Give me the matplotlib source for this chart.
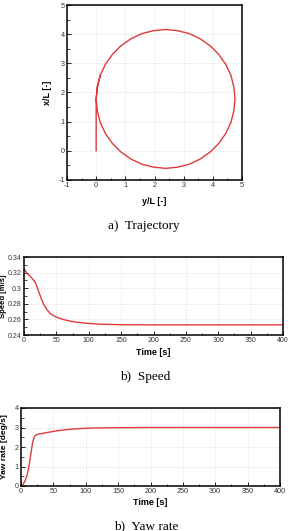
import matplotlib
matplotlib.use("Agg")
import matplotlib.pyplot as plt
from matplotlib.ticker import MultipleLocator, FormatStrFormatter

# --- datos ---
# trayectoria: y/L (horizontal) y x/L (vertical)
traj_y = [0.00, 0.00, 0.00, 0.00,
          0.04, 0.14, 0.32, 0.56, 0.85, 1.19, 1.57, 1.97, 2.38,
          2.79, 3.19, 3.57, 3.91, 4.20, 4.44, 4.62, 4.72, 4.76,
          4.72, 4.62, 4.44, 4.20, 3.91, 3.57, 3.19, 2.79, 2.38,
          1.97, 1.57, 1.19, 0.85, 0.56, 0.32, 0.14, 0.04, 0.00,
          0.04, 0.14]
traj_x = [0.00, 0.60, 1.20, 1.78,
          2.19, 2.59, 2.97, 3.31, 3.60, 3.84, 4.02, 4.12, 4.16,
          4.12, 4.02, 3.84, 3.60, 3.31, 2.97, 2.59, 2.19, 1.78,
          1.37, 0.97, 0.59, 0.25, -0.04, -0.28, -0.46, -0.56, -0.60,
          -0.56, -0.46, -0.28, -0.04, 0.25, 0.59, 0.97, 1.37, 1.78,
          2.19, 2.59]

# velocidad
t_speed = [0, 3, 6, 10, 14, 17, 20, 23, 26, 30, 35, 40, 45, 50, 60, 70, 80,
           100, 120, 150, 200, 250, 300, 350, 400]
speed = [0.325, 0.321, 0.318, 0.315, 0.311, 0.308, 0.302, 0.295, 0.288, 0.280,
         0.273, 0.268, 0.265, 0.263, 0.260, 0.258, 0.2565, 0.2548, 0.2538,
         0.2532, 0.253, 0.253, 0.253, 0.253, 0.253]

# velocidad de guinada
t_yaw = [0, 3, 6, 9, 12, 15, 18, 21, 24, 27, 30, 40, 50, 60, 70, 80, 100,
         120, 150, 200, 250, 300, 350, 400]
yaw = [0.0, 0.08, 0.25, 0.5, 0.95, 1.6, 2.25, 2.55, 2.63, 2.66, 2.68, 2.74,
       2.80, 2.85, 2.89, 2.92, 2.96, 2.98, 2.99, 3.0, 3.0, 3.0, 3.0, 3.0]

RED = "#e03a3a"
W, H = 293, 531

plt.rcParams['font.family'] = ['Liberation Sans', 'DejaVu Sans']
plt.rcParams['axes.unicode_minus'] = False

fig = plt.figure(figsize=(W / 100, H / 100), dpi=100)


def estilo(ax, xmaj, xmin, ymaj, ymin, lsize=5.2):
    ax.xaxis.set_major_locator(MultipleLocator(xmaj))
    ax.xaxis.set_minor_locator(MultipleLocator(xmin))
    ax.yaxis.set_major_locator(MultipleLocator(ymaj))
    ax.yaxis.set_minor_locator(MultipleLocator(ymin))
    ax.tick_params(which='both', direction='in', top=False, right=False,
                   labelsize=lsize, pad=1.5, labelcolor='#333333')
    ax.tick_params(which='major', length=3, width=0.6)
    ax.tick_params(which='minor', length=1.8, width=0.5)
    ax.grid(True, which='major', color='#dcdcdc', linestyle=(0, (2, 2)), linewidth=0.5)
    for s in ax.spines.values():
        s.set_linewidth(1.1)


def px_axes(x0, y0, x1, y1):
    return fig.add_axes([x0 / W, 1 - y1 / H, (x1 - x0) / W, (y1 - y0) / H])


lab = dict(fontsize=6.5, fontweight='bold')

# Grafico a: trayectoria
ax1 = px_axes(67, 5, 242, 180)
ax1.plot(traj_y, traj_x, color=RED, linewidth=1.0)
ax1.set_xlim(-1, 5)
ax1.set_ylim(-1, 5)
estilo(ax1, 1, 0.5, 1, 0.5)
ax1.set_xlabel('y/L [-]', **lab)
ax1.set_ylabel('x/L [-]', **lab)
ax1.xaxis.set_label_coords(0.5, -0.097)
ax1.yaxis.set_label_coords(-0.086, 0.5)

# Grafico b: velocidad
ax2 = px_axes(24, 257, 283, 335)
ax2.plot(t_speed, speed, color=RED, linewidth=1.0)
ax2.set_xlim(0, 400)
ax2.set_ylim(0.24, 0.34)
estilo(ax2, 50, 25, 0.02, 0.01, lsize=5.0)
ax2.yaxis.set_major_formatter(FormatStrFormatter('%g'))
ax2.set_xlabel('Time [s]', **lab)
ax2.set_ylabel('Speed [m/s]', fontsize=5.6, fontweight='bold')
ax2.xaxis.set_label_coords(0.5, -0.163)
ax2.yaxis.set_label_coords(-0.066, 0.5)

# Grafico c: yaw rate
ax3 = px_axes(21, 408, 280, 486)
ax3.plot(t_yaw, yaw, color=RED, linewidth=1.0)
ax3.set_xlim(0, 400)
ax3.set_ylim(0, 4)
estilo(ax3, 50, 25, 1, 0.5)
ax3.set_xlabel('Time [s]', **lab)
ax3.set_ylabel('Yaw rate [deg/s]', fontsize=6, fontweight='bold')
ax3.xaxis.set_label_coords(0.5, -0.154)
ax3.yaxis.set_label_coords(-0.05, 0.5)

# subtitulos
cap = dict(ha='center', va='center', fontsize=9.5,
           family=['Liberation Serif', 'DejaVu Serif'])
fig.text(144 / W, 1 - 226 / H, 'a)  Trajectory', **cap)
fig.text(145 / W, 1 - 377 / H, 'b)  Speed', **cap)
fig.text(146 / W, 1 - 526 / H, 'b)  Yaw rate', **cap)

fig.savefig('out.png', dpi=100)
